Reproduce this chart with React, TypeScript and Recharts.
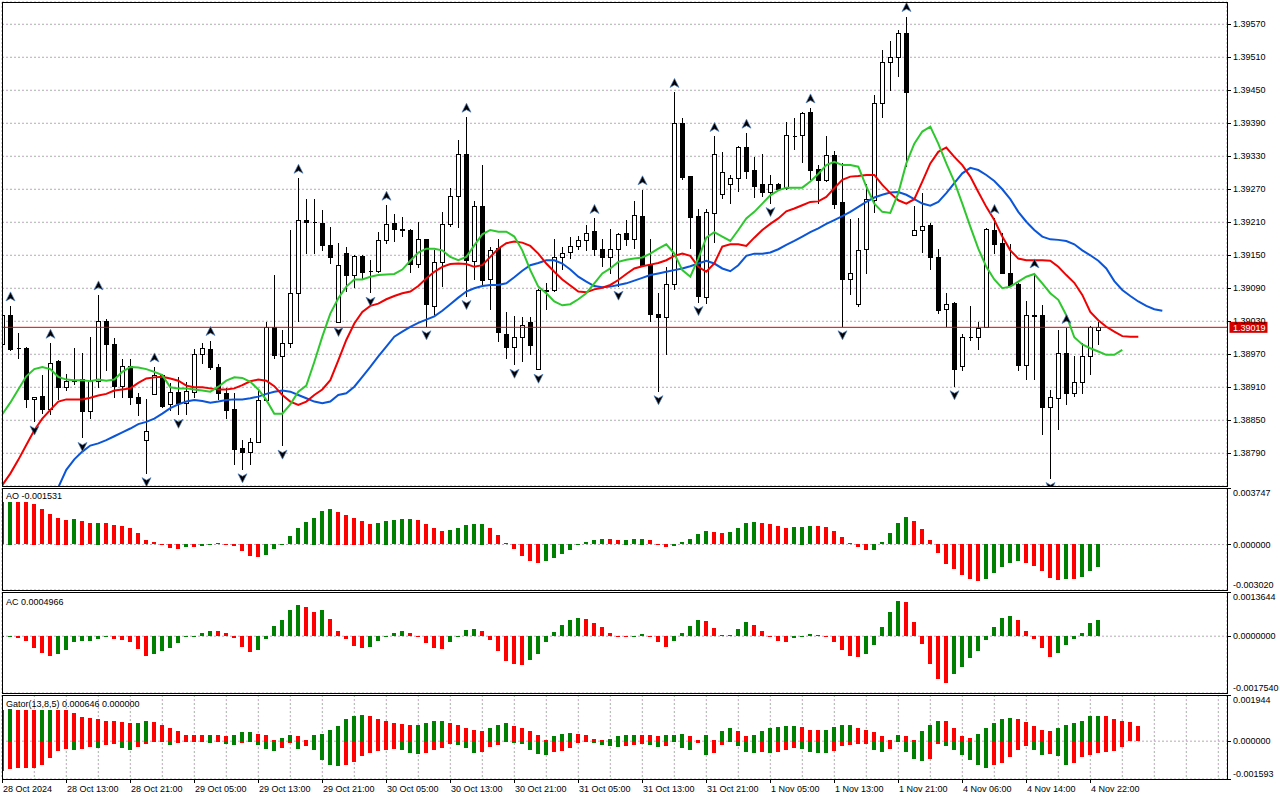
import React from "react";
import {
  ComposedChart,
  Bar,
  Line,
  Scatter,
  XAxis,
  YAxis,
  CartesianGrid,
  ReferenceLine,
  Cell,
} from "recharts";

// prices are stored in points (1e-5), indicator values in 1e-4 steps
const POINT = 0.00001;
const UNIT = 0.0001;

const opens = [
  138988, 139041, 138981, 138981, 138888, 138895, 138870, 138958, 138910, 138923,
  138925, 138867, 138921, 139030, 138988, 138913, 138949, 138892, 138814, 138897,
  138933, 138879, 138901, 138882, 138902, 138970, 138979, 138946, 138900, 138870,
  138799, 138793, 138811, 138887, 139019, 138967, 138990, 139081, 139215, 139211,
  139208, 139168, 139029, 139155, 139115, 139148, 139122, 139122, 139178, 139208,
  139197, 139196, 139135, 139179, 139058, 139137, 139206, 139258, 139335, 139140,
  139240, 139106, 139164, 139007, 138984, 139001, 139028, 138943, 139086, 139086,
  139147, 139156, 139167, 139178, 139194, 139161, 139147, 139161, 139190, 139179,
  139221, 139132, 139044, 139037, 139098, 139390, 139294, 139221, 139075, 139226,
  139262, 139279, 139290, 139347, 139305, 139279, 139265, 139279, 139272, 139367,
  139369, 139410, 139307, 139286, 139332, 139247, 139106, 139061, 139161, 139250,
  139426, 139501, 139511, 139555, 139187, 139196, 139205, 139146, 139052, 139064,
  138949, 139002, 139002, 139019, 139196, 139172, 139118, 139098, 138950, 139041,
  139041, 138875, 138890, 138973, 138899, 138919, 138967, 139015,
];

const highs = [
  139044, 139058, 139008, 138983, 138893, 138932, 138990, 138960, 138934, 138981,
  138972, 139001, 139078, 139035, 138999, 138962, 138961, 138899, 138888, 138947,
  138935, 138917, 138928, 138920, 138979, 138991, 138995, 138953, 138908, 138900,
  138815, 138817, 138905, 139029, 139114, 139015, 139196, 139290, 139253, 139252,
  139233, 139201, 139172, 139165, 139150, 139150, 139142, 139193, 139241, 139225,
  139219, 139197, 139211, 139180, 139159, 139229, 139272, 139359, 139401, 139249,
  139315, 139165, 139179, 139047, 139039, 139037, 139037, 139089, 139099, 139180,
  139165, 139184, 139185, 139205, 139217, 139179, 139197, 139191, 139215, 139249,
  139269, 139180, 139082, 139129, 139446, 139400, 139295, 139235, 139235, 139366,
  139338, 139296, 139348, 139372, 139329, 139335, 139296, 139282, 139393, 139399,
  139411, 139418, 139315, 139367, 139340, 139317, 139216, 139217, 139279, 139441,
  139524, 139539, 139559, 139584, 139239, 139264, 139209, 139162, 139081, 139065,
  139007, 139058, 139029, 139199, 139217, 139190, 139170, 139099, 139066, 139118,
  139059, 138905, 139014, 139017, 138966, 138990, 139021, 139029,
];

const lows = [
  138984, 138976, 138962, 138873, 138847, 138862, 138859, 138887, 138904, 138914,
  138817, 138852, 138908, 138940, 138890, 138890, 138878, 138858, 138753, 138896,
  138872, 138867, 138859, 138859, 138890, 138953, 138941, 138887, 138853, 138769,
  138760, 138769, 138808, 138884, 138962, 138803, 138981, 139029, 139152, 139153,
  139158, 139135, 139026, 139084, 139090, 139106, 139081, 139118, 139170, 139175,
  139184, 139118, 139126, 139020, 139041, 139092, 139202, 139200, 139075, 139105,
  139096, 139050, 138993, 138962, 138950, 138956, 138969, 138941, 139050, 139084,
  139123, 139144, 139159, 139158, 139148, 139129, 139116, 139092, 139167, 139162,
  139129, 139029, 138902, 138969, 139087, 139287, 139162, 139064, 139062, 139172,
  139253, 139244, 139265, 139288, 139255, 139256, 139244, 139268, 139269, 139341,
  139318, 139287, 139243, 139284, 139235, 139020, 139078, 139056, 139116, 139226,
  139399, 139449, 139475, 139310, 139186, 139155, 139124, 139043, 139020, 138911,
  138940, 138995, 138978, 139017, 139153, 139116, 139094, 138940, 138923, 138923,
  138823, 138744, 138832, 138878, 138893, 138898, 138932, 138987,
];

const closes = [
  139041, 138979, 138982, 138888, 138892, 138870, 138955, 138910, 138921, 138922,
  138866, 138921, 139030, 138988, 138913, 138949, 138893, 138882, 138831, 138933,
  138876, 138901, 138882, 138904, 138970, 138981, 138946, 138899, 138869, 138797,
  138793, 138811, 138887, 139019, 138969, 138990, 139081, 139215, 139211, 139210,
  139168, 139146, 139133, 139115, 139148, 139120, 139121, 139178, 139207, 139197,
  139196, 139135, 139179, 139062, 139137, 139206, 139258, 139335, 139142, 139240,
  139105, 139159, 139011, 138984, 139001, 139023, 138986, 139086, 139085, 139147,
  139155, 139167, 139178, 139190, 139161, 139147, 139162, 139188, 139179, 139224,
  139132, 139044, 139037, 139098, 139390, 139292, 139220, 139076, 139228, 139335,
  139301, 139290, 139347, 139304, 139276, 139265, 139279, 139270, 139369, 139366,
  139408, 139305, 139286, 139332, 139243, 139106, 139117, 139159, 139252, 139426,
  139501, 139511, 139555, 139447, 139196, 139204, 139146, 139050, 139062, 138944,
  139001, 139001, 139018, 139197, 139170, 139117, 139096, 138950, 139041, 139040,
  138875, 138892, 138973, 138899, 138920, 138967, 139019, 139019,
];

const jawStart = 7;
const jaw = [
  138728, 138760, 138779, 138793, 138804, 138808, 138814, 138821, 138828, 138835,
  138843, 138847, 138853, 138862, 138872, 138879, 138884, 138887, 138885, 138882,
  138884, 138887, 138888, 138888, 138890, 138893, 138898, 138902, 138904, 138902,
  138896, 138890, 138884, 138881, 138884, 138896, 138899, 138911, 138929, 138947,
  138966, 138984, 139002, 139011, 139020, 139027, 139033, 139039, 139049, 139061,
  139073, 139084, 139090, 139094, 139096, 139096, 139099, 139110, 139122, 139132,
  139136, 139141, 139141, 139135, 139124, 139111, 139102, 139094, 139092, 139093,
  139096, 139099, 139104, 139109, 139114, 139117, 139120, 139123, 139126, 139130,
  139135, 139140, 139135, 139126, 139121, 139132, 139149, 139153, 139153, 139155,
  139161, 139169, 139176, 139184, 139192, 139199, 139207, 139214, 139221, 139229,
  139238, 139247, 139255, 139260, 139264, 139265, 139260, 139252, 139244, 139240,
  139247, 139263, 139281, 139299, 139309, 139305, 139296, 139285, 139270, 139252,
  139229, 139211, 139196, 139184, 139179, 139178, 139176, 139170, 139159, 139150,
  139140, 139126, 139103, 139087, 139076, 139066, 139058, 139052, 139049,
];

const teeth = [
  138732, 138753, 138778, 138805, 138832, 138853, 138869, 138884, 138888, 138888,
  138888, 138891, 138895, 138898, 138904, 138906, 138908, 138918, 138926, 138928,
  138929, 138926, 138922, 138913, 138910, 138910, 138908, 138906, 138906, 138908,
  138914, 138921, 138924, 138922, 138912, 138896, 138884, 138878, 138884, 138896,
  138906, 138923, 138959, 138996, 139026, 139047, 139058, 139062, 139070, 139076,
  139081, 139084, 139094, 139108, 139120, 139129, 139134, 139135, 139134, 139129,
  139132, 139147, 139162, 139172, 139175, 139173, 139167, 139153, 139135, 139120,
  139106, 139095, 139084, 139083, 139088, 139091, 139096, 139105, 139116, 139126,
  139130, 139133, 139136, 139141, 139149, 139153, 139149, 139129, 139120, 139135,
  139166, 139170, 139170, 139167, 139182, 139196, 139207, 139217, 139230, 139235,
  139241, 139247, 139248, 139256, 139272, 139287, 139293, 139294, 139296, 139296,
  139278, 139263, 139250, 139244, 139252, 139284, 139317, 139338, 139346, 139329,
  139314, 139293, 139265, 139238, 139214, 139184, 139159, 139144, 139141, 139141,
  139141, 139140, 139129, 139114, 139100, 139078, 139047, 139032, 139020, 139011,
  139003, 139002, 139002,
];

const lips = [
  138861, 138882, 138906, 138930, 138943, 138947, 138943, 138929, 138924, 138923,
  138923, 138921, 138924, 138922, 138924, 138938, 138947, 138946, 138943, 138938,
  138932, 138910, 138908, 138908, 138906, 138904, 138902, 138911, 138922, 138928,
  138927, 138920, 138906, 138887, 138862, 138862, 138879, 138902, 138913, 138956,
  139002, 139044, 139072, 139093, 139106, 139106, 139111, 139114, 139115, 139116,
  139124, 139140, 139155, 139162, 139162, 139159, 139147, 139141, 139147, 139168,
  139188, 139196, 139193, 139193, 139184, 139159, 139123, 139093, 139081, 139066,
  139059, 139061, 139070, 139081, 139099, 139117, 139126, 139138, 139142, 139144,
  139146, 139153, 139162, 139170, 139153, 139123, 139111, 139144, 139182, 139192,
  139184, 139176, 139196, 139217, 139229, 139244, 139259, 139268, 139273, 139273,
  139273, 139284, 139298, 139314, 139320, 139314, 139314, 139311, 139275, 139244,
  139229, 139227, 139263, 139317, 139353, 139375, 139384, 139353, 139317, 139284,
  139244, 139202, 139162, 139129, 139106, 139090, 139093, 139102, 139111, 139116,
  139099, 139081, 139069, 139041, 139001, 138988, 138981, 138975, 138969, 138969,
  138978,
];

// bars that carry a fractal arrow
const fractalUps = [1, 6, 12, 19, 26, 37, 48, 58, 74, 80, 84, 89, 93, 101, 113, 124, 129, 133];
const fractalDowns = [4, 10, 18, 22, 30, 35, 42, 46, 53, 58, 64, 67, 77, 82, 87, 96, 105, 119, 131];

const aoValues = [
  28.0, 28.2, 28.1, 28.0, 26.9, 23.3, 20.2, 17.6, 16.4, 16.9,
  15.8, 14.2, 14.3, 14.2, 12.9, 12.2, 10.9, 7.3, 2.9, 1.6,
  -0.4, -2.4, -3.1, -1.8, -1.9, -1.1, -0.2, 0.7, 0.6, -1.1,
  -4.4, -7.8, -8.4, -7.1, -3.1, -0.2, 5.6, 10.9, 14.9, 17.6,
  22.2, 23.6, 21.6, 19.6, 17.6, 15.6, 13.6, 14.2, 15.6, 16.2,
  16.9, 17.0, 16.2, 13.6, 10.9, 8.9, 9.6, 10.9, 12.9, 13.6,
  13.7, 10.9, 6.2, 0.9, -3.1, -7.8, -11.1, -12.4, -11.1, -9.1,
  -6.4, -3.8, -0.2, 1.6, 2.9, 3.6, 3.5, 2.9, 3.0, 3.6,
  3.7, 2.9, 0.1, -1.8, -1.1, 1.6, 3.6, 6.9, 8.9, 8.2,
  7.6, 8.2, 10.9, 14.2, 14.9, 14.2, 13.6, 12.2, 10.9, 11.6,
  11.7, 12.2, 12.1, 11.6, 8.9, 4.9, 0.9, -1.8, -3.8, -3.7,
  1.6, 7.6, 14.2, 18.2, 15.6, 10.2, 2.9, -5.8, -13.1, -16.4,
  -20.4, -23.1, -24.4, -23.1, -19.1, -15.1, -12.4, -11.1, -12.4, -14.4,
  -17.8, -22.4, -23.8, -23.1, -23.2, -21.8, -17.8, -15.31,
];

const acValues = [
  0.05, 0.2, -0.5, -1.6, -3.6, -5.3, -6.1, -5.6, -4.4, -1.9,
  -1.6, -1.5, -1.0, -0.4, -1.0, -1.1, -1.9, -4.1, -6.3, -5.6,
  -4.7, -3.8, -2.3, -0.4, -0.1, 1.0, 1.6, 1.5, 1.0, -0.7,
  -3.5, -5.0, -4.2, -1.0, 3.2, 5.0, 8.1, 9.6, 9.0, 7.5,
  8.1, 5.3, 1.6, -1.0, -3.2, -3.8, -3.5, -1.6, -0.1, 1.0,
  1.6, 1.0, -0.1, -2.3, -3.8, -3.9, -1.9, 0.2, 1.9, 2.3,
  1.6, -1.3, -4.7, -7.8, -8.7, -9.0, -7.5, -5.6, -1.9, 1.3,
  3.5, 5.0, 5.6, 5.3, 4.1, 2.9, 1.0, -0.1, -0.2, 0.1,
  0.7, -0.1, -1.9, -3.5, -1.6, 1.0, 3.2, 5.0, 4.7, 2.6,
  0.4, 0.3, 2.3, 4.4, 3.5, 1.6, 0.1, -1.6, -1.9, -0.7,
  0.1, 0.7, 0.4, -0.4, -1.9, -4.4, -6.3, -6.4, -5.6, -2.9,
  2.9, 7.5, 10.9, 10.6, 4.4, -2.6, -8.7, -13.3, -14.6, -11.8,
  -9.6, -6.9, -4.7, -1.3, 2.9, 5.6, 6.3, 5.0, 1.6, -1.0,
  -3.8, -6.6, -5.3, -2.9, -1.0, 1.0, 4.1, 4.966,
];

const gatorUpper = [
  13.3, 13.4, 13.3, 13.2, 13.1, 13.2, 13.3, 13.2, 13.1, 11.7,
  10.0, 9.6, 9.2, 8.7, 8.6, 7.9, 7.5, 7.6, 8.3, 7.9,
  6.6, 5.4, 4.4, 2.8, 2.7, 2.6, 2.8, 2.4, 2.0, 2.4,
  3.7, 3.8, 3.2, 2.4, 0.7, 1.5, 2.4, 2.3, 0.3, 2.8,
  2.9, 4.5, 6.2, 9.2, 10.8, 10.9, 10.4, 9.2, 8.3, 7.5,
  7.4, 6.6, 7.0, 7.5, 8.3, 8.4, 7.5, 6.6, 5.4, 4.5,
  4.1, 5.4, 7.0, 7.5, 6.2, 5.4, 4.1, 2.8, 0.3, 2.0,
  3.2, 3.3, 3.2, 2.4, 1.1, 0.3, 1.1, 2.0, 2.4, 2.8,
  2.7, 2.4, 2.0, 2.4, 2.8, 3.2, 2.0, 0.7, 2.4, 0.5,
  4.1, 5.4, 4.1, 2.0, 2.8, 4.1, 5.4, 5.8, 6.2, 6.3,
  5.8, 4.9, 4.8, 4.9, 5.8, 6.6, 6.7, 5.4, 4.9, 3.7,
  2.0, 0.3, 2.4, 2.0, 0.7, 4.1, 7.0, 8.7, 8.6, 5.4,
  2.0, 1.5, 3.2, 5.4, 7.5, 9.2, 9.6, 9.2, 7.9, 6.2,
  4.5, 4.1, 5.4, 6.6, 7.5, 8.3, 10.4, 10.8, 10.4, 9.2,
  8.3, 7.9, 6.46,
];

// lower histogram, drawn below zero
const gatorLower = [
  12.7, 12.0, 11.5, 11.4, 11.3, 9.9, 7.3, 4.4, 3.5, 3.6,
  3.5, 2.7, 3.1, 1.8, 1.4, 3.1, 3.9, 2.7, 1.4, 0.6,
  0.3, 1.8, 1.0, 0.2, 0.1, 0.6, 0.7, 0.2, 1.4, 1.8,
  1.0, 0.2, 1.8, 3.5, 4.4, 3.1, 1.0, 3.5, 2.3, 3.9,
  8.2, 9.9, 10.7, 10.3, 9.0, 6.5, 5.2, 4.4, 3.7, 3.5,
  3.9, 5.2, 5.6, 5.2, 3.9, 3.1, 1.4, 1.6, 3.1, 5.2,
  4.8, 2.7, 1.8, 0.6, 1.0, 1.4, 3.9, 5.6, 5.7, 4.8,
  4.4, 3.1, 1.0, 0.6, 1.0, 1.8, 2.3, 2.7, 2.3, 1.8,
  1.4, 1.8, 2.7, 2.3, 0.6, 3.1, 3.9, 1.0, 6.1, 5.2,
  1.8, 0.4, 2.3, 4.8, 4.9, 4.8, 5.2, 4.8, 3.9, 3.1,
  3.2, 4.8, 4.9, 5.0, 4.4, 2.3, 1.8, 1.4, 1.3, 3.9,
  4.8, 3.5, 0.1, 4.8, 7.7, 8.6, 7.7, 1.4, 2.3, 3.9,
  6.1, 8.2, 10.3, 11.5, 10.3, 9.4, 6.9, 3.9, 2.3, 3.9,
  6.1, 5.6, 6.5, 9.9, 9.4, 6.9, 6.1, 5.2, 4.8, 4.4,
  2.7,
];

const priceTicks = [
  1.3957, 1.3951, 1.3945, 1.3939, 1.3933, 1.3927, 1.3921,
  1.3915, 1.3909, 1.3903, 1.3897, 1.3891, 1.3885, 1.3879,
];

const timeLabels = [
  "28 Oct 2024", "28 Oct 13:00", "28 Oct 21:00", "29 Oct 05:00", "29 Oct 13:00",
  "29 Oct 21:00", "30 Oct 05:00", "30 Oct 13:00", "30 Oct 21:00", "31 Oct 05:00",
  "31 Oct 13:00", "31 Oct 21:00", "1 Nov 05:00", "1 Nov 13:00", "1 Nov 21:00",
  "4 Nov 06:00", "4 Nov 14:00", "4 Nov 22:00",
];

const LABEL_STEP = 8;
const GRID_STEP = 4;
const X_DOMAIN: [number, number] = [-0.0375, 153.0875];
const PRICE_DOMAIN: [number, number] = [1.387305, 1.396105];
const AO_DOMAIN: [number, number] = [-0.00302, 0.003747];
const AC_DOMAIN: [number, number] = [-0.001754, 0.0013644];
const GATOR_DOMAIN: [number, number] = [-0.001593, 0.001944];

const FONT = '"Liberation Sans", Arial, sans-serif';
const FONT_SIZE = 9;
const UP = "#008000";
const DOWN = "#ff0000";

const gridTicks: number[] = [];
for (let i = 0; i <= 152; i += GRID_STEP) gridTicks.push(i);

const rowCount = jawStart + jaw.length;
const rows = Array.from({ length: rowCount }, (_, i) => {
  const has = i < opens.length;
  return {
    i,
    o: has ? opens[i] * POINT : undefined,
    h: has ? highs[i] * POINT : undefined,
    l: has ? lows[i] * POINT : undefined,
    c: has ? closes[i] * POINT : undefined,
    range: has ? [lows[i] * POINT, highs[i] * POINT] : undefined,
    jaw: i >= jawStart ? jaw[i - jawStart] * POINT : undefined,
    teeth: i < teeth.length ? teeth[i] * POINT : undefined,
    lips: i < lips.length ? lips[i] * POINT : undefined,
  };
});

const upRows = fractalUps.map((i) => ({ i, y: highs[i] * POINT }));
const downRows = fractalDowns.map((i) => ({ i, y: lows[i] * POINT }));

const lastClose = closes[closes.length - 1] * POINT;

const aoRows = aoValues.map((v, i) => ({ i, v: v * UNIT }));
const acRows = acValues.map((v, i) => ({ i, v: v * UNIT }));
const gatorRows = gatorUpper.map((u, i) => ({
  i,
  up: u * UNIT,
  dn: i < gatorLower.length ? -gatorLower[i] * UNIT : undefined,
}));

function rising(values: number[], i: number) {
  return i === 0 || values[i] > values[i - 1];
}

function Candle(props: any) {
  const { x, y, width, height, payload } = props;
  if (payload == null || payload.h == null) return null;
  const cx = Math.round(x + width / 2) + 0.5;
  const span = payload.h - payload.l;
  const k = span > 0 ? height / span : 0;
  const yO = y + (payload.h - payload.o) * k;
  const yC = y + (payload.h - payload.c) * k;
  const top = Math.round(Math.min(yO, yC)) + 0.5;
  const bot = Math.round(Math.max(yO, yC)) + 0.5;
  const bull = payload.c >= payload.o;
  return (
    <g shapeRendering="crispEdges">
      <line x1={cx} x2={cx} y1={y} y2={y + height} stroke="#000" />
      {bot - top < 1 ? (
        <line x1={cx - 2} x2={cx + 2} y1={top} y2={top} stroke="#000" />
      ) : (
        <rect
          x={cx - 2}
          y={top}
          width={4}
          height={bot - top}
          fill={bull ? "#fff" : "#000"}
          stroke="#000"
        />
      )}
    </g>
  );
}

function HistBar(props: any) {
  const { x, y, width, height, fill } = props;
  if (!height || x == null) return null;
  const h = Math.abs(height);
  const top = height < 0 ? y + height : y;
  return (
    <rect
      x={Math.round(x)}
      y={Math.round(top)}
      width={width}
      height={Math.max(1, Math.round(h))}
      fill={fill}
      shapeRendering="crispEdges"
    />
  );
}

function UpArrow(props: any) {
  const { cx, cy } = props;
  if (cx == null) return null;
  const x = Math.round(cx) + 0.5;
  const y = cy - 9;
  return (
    <path
      d={`M${x},${y - 5} L${x + 4.5},${y + 4} L${x},${y + 1.5} L${x - 4.5},${y + 4} Z`}
      fill="#000"
      stroke="#4f7fbf"
      strokeWidth={0.7}
    />
  );
}

function DownArrow(props: any) {
  const { cx, cy } = props;
  if (cx == null) return null;
  const x = Math.round(cx) + 0.5;
  const y = cy + 8;
  return (
    <path
      d={`M${x},${y + 5} L${x + 4.5},${y - 4} L${x},${y - 1.5} L${x - 4.5},${y - 4} Z`}
      fill="#000"
      stroke="#4f7fbf"
      strokeWidth={0.7}
    />
  );
}

function PriceTick(props: any) {
  const { x, y, payload } = props;
  return (
    <g>
      <line x1={x} x2={x + 4} y1={Math.round(y) + 0.5} y2={Math.round(y) + 0.5} stroke="#000" />
      <text x={x + 6} y={y} dy={3.2} textAnchor="start" fontSize={FONT_SIZE} fontFamily={FONT} fill="#000">
        {payload.value.toFixed(5)}
      </text>
    </g>
  );
}

function makeSideTick(digits: number, domain: [number, number]) {
  return function SideTick(props: any) {
    const { x, y, payload } = props;
    const v = payload.value;
    const dy = v === domain[1] ? 8 : v === domain[0] ? -2 : 3.2;
    return (
      <g>
        <line x1={x} x2={x + 4} y1={Math.round(y) + 0.5} y2={Math.round(y) + 0.5} stroke="#000" />
        <text x={x + 6} y={y} dy={dy} textAnchor="start" fontSize={FONT_SIZE} fontFamily={FONT} fill="#000">
          {v.toFixed(digits)}
        </text>
      </g>
    );
  };
}

function TimeTick(props: any) {
  const { x, y, payload } = props;
  const i = payload.value;
  if (i % LABEL_STEP !== 0) return null;
  const label = timeLabels[i / LABEL_STEP];
  if (!label) return null;
  const px = Math.round(x) + 0.5;
  return (
    <g>
      <line x1={px} x2={px} y1={y} y2={y + 4} stroke="#000" />
      <text x={px + 0.5} y={y + 12.5} textAnchor="start" fontSize={FONT_SIZE} fontFamily={FONT} fill="#000">
        {label}
      </text>
    </g>
  );
}

function PriceTag(props: any) {
  const vb = props.viewBox;
  if (!vb) return null;
  const x = vb.x + vb.width + 2.5;
  const y = vb.y;
  return (
    <g>
      <rect x={x} y={y - 5.5} width={38} height={11} fill="#d40000" />
      <text x={x + 3.5} y={y + 3.2} fill="#fff" fontSize={FONT_SIZE} fontFamily={FONT}>
        {props.text}
      </text>
    </g>
  );
}

const gridA = { stroke: "#9fb79f", strokeDasharray: "2 6" };
const gridB = { stroke: "#c6a3c6", strokeDasharray: "2 6", strokeDashoffset: 4 };

function hiddenX() {
  return (
    <XAxis
      type="number"
      dataKey="i"
      domain={X_DOMAIN}
      allowDataOverflow
      ticks={gridTicks}
      interval={0}
      tick={false}
      tickLine={false}
      axisLine={false}
      height={0}
    />
  );
}

const AoTick = makeSideTick(6, AO_DOMAIN);
const AcTick = makeSideTick(7, AC_DOMAIN);
const GatorTick = makeSideTick(6, GATOR_DOMAIN);

function Frame({ top, height }: { top: number; height: number }) {
  return (
    <div
      style={{
        position: "absolute",
        left: 2,
        top,
        width: 1226,
        height,
        border: "1px solid #000",
        boxSizing: "border-box",
        pointerEvents: "none",
      }}
    />
  );
}

function Caption({ top, text }: { top: number; text: string }) {
  return (
    <div
      style={{
        position: "absolute",
        left: 6,
        top,
        fontFamily: FONT,
        fontSize: FONT_SIZE,
        lineHeight: "10px",
        color: "#000",
        whiteSpace: "nowrap",
      }}
    >
      {text}
    </div>
  );
}

export default function App() {
  const lastAo = aoValues[aoValues.length - 1] * UNIT;
  const lastAc = acValues[acValues.length - 1] * UNIT;
  const lastGu = gatorUpper[gatorUpper.length - 1] * UNIT;

  return (
    <div
      style={{
        position: "absolute",
        left: 0,
        top: 0,
        width: 1280,
        height: 800,
        background: "#fff",
        overflow: "hidden",
        fontFamily: FONT,
      }}
    >
      {/* price window */}
      <div style={{ position: "absolute", left: 0, top: 0 }}>
        <ComposedChart width={1280} height={488} data={rows} margin={{ top: 2, right: 0, bottom: 2, left: 2 }}>
          <CartesianGrid {...gridA} />
          <CartesianGrid {...gridB} />
          {hiddenX()}
          <YAxis
            orientation="right"
            domain={PRICE_DOMAIN}
            allowDataOverflow
            ticks={priceTicks}
            interval={0}
            width={53}
            tickSize={0}
            tickMargin={0}
            tickLine={false}
            axisLine={false}
            tick={<PriceTick />}
          />
          <ReferenceLine
            y={lastClose}
            stroke="#e00000"
            strokeWidth={1}
            label={<PriceTag text={lastClose.toFixed(5)} />}
          />
          <Bar dataKey="range" barSize={5} isAnimationActive={false} shape={(p: any) => <Candle {...p} />} />
          <Line dataKey="jaw" stroke="#0a55d8" strokeWidth={2} dot={false} activeDot={false} isAnimationActive={false} />
          <Line dataKey="teeth" stroke="#f00000" strokeWidth={2} dot={false} activeDot={false} isAnimationActive={false} />
          <Line dataKey="lips" stroke="#2ec82e" strokeWidth={2} dot={false} activeDot={false} isAnimationActive={false} />
          <Scatter data={upRows} dataKey="y" isAnimationActive={false} shape={(p: any) => <UpArrow {...p} />} />
          <Scatter data={downRows} dataKey="y" isAnimationActive={false} shape={(p: any) => <DownArrow {...p} />} />
        </ComposedChart>
      </div>

      {/* Awesome Oscillator */}
      <div style={{ position: "absolute", left: 0, top: 488 }}>
        <ComposedChart width={1280} height={102} data={aoRows} margin={{ top: 0, right: 0, bottom: 0, left: 2 }}>
          <CartesianGrid {...gridA} />
          <CartesianGrid {...gridB} />
          {hiddenX()}
          <YAxis
            orientation="right"
            domain={AO_DOMAIN}
            allowDataOverflow
            ticks={[AO_DOMAIN[0], 0, AO_DOMAIN[1]]}
            interval={0}
            width={53}
            tickSize={0}
            tickMargin={0}
            tickLine={false}
            axisLine={false}
            tick={<AoTick />}
          />
          <Bar dataKey="v" barSize={4} isAnimationActive={false} shape={(p: any) => <HistBar {...p} />}>
            {aoRows.map((r, i) => (
              <Cell key={r.i} fill={rising(aoValues, i) ? UP : DOWN} />
            ))}
          </Bar>
        </ComposedChart>
      </div>

      {/* Accelerator Oscillator */}
      <div style={{ position: "absolute", left: 0, top: 592 }}>
        <ComposedChart width={1280} height={101} data={acRows} margin={{ top: 0, right: 0, bottom: 0, left: 2 }}>
          <CartesianGrid {...gridA} />
          <CartesianGrid {...gridB} />
          {hiddenX()}
          <YAxis
            orientation="right"
            domain={AC_DOMAIN}
            allowDataOverflow
            ticks={[AC_DOMAIN[0], 0, AC_DOMAIN[1]]}
            interval={0}
            width={53}
            tickSize={0}
            tickMargin={0}
            tickLine={false}
            axisLine={false}
            tick={<AcTick />}
          />
          <Bar dataKey="v" barSize={4} isAnimationActive={false} shape={(p: any) => <HistBar {...p} />}>
            {acRows.map((r, i) => (
              <Cell key={r.i} fill={rising(acValues, i) ? UP : DOWN} />
            ))}
          </Bar>
        </ComposedChart>
      </div>

      {/* Gator Oscillator + time scale */}
      <div style={{ position: "absolute", left: 0, top: 695 }}>
        <ComposedChart
          width={1280}
          height={105}
          data={gatorRows}
          stackOffset="sign"
          margin={{ top: 0, right: 0, bottom: 0, left: 2 }}
        >
          <CartesianGrid {...gridA} />
          <CartesianGrid {...gridB} />
          <XAxis
            type="number"
            dataKey="i"
            domain={X_DOMAIN}
            allowDataOverflow
            ticks={gridTicks}
            interval={0}
            height={21}
            tickSize={0}
            tickMargin={0}
            tickLine={false}
            axisLine={false}
            tick={<TimeTick />}
          />
          <YAxis
            orientation="right"
            domain={GATOR_DOMAIN}
            allowDataOverflow
            ticks={[GATOR_DOMAIN[0], 0, GATOR_DOMAIN[1]]}
            interval={0}
            width={53}
            tickSize={0}
            tickMargin={0}
            tickLine={false}
            axisLine={false}
            tick={<GatorTick />}
          />
          <Bar dataKey="up" stackId="g" barSize={4} isAnimationActive={false} shape={(p: any) => <HistBar {...p} />}>
            {gatorRows.map((r, i) => (
              <Cell key={r.i} fill={rising(gatorUpper, i) ? UP : DOWN} />
            ))}
          </Bar>
          <Bar dataKey="dn" stackId="g" barSize={4} isAnimationActive={false} shape={(p: any) => <HistBar {...p} />}>
            {gatorRows.map((r, i) => (
              <Cell key={r.i} fill={rising(gatorLower, i) ? UP : DOWN} />
            ))}
          </Bar>
        </ComposedChart>
      </div>

      <Frame top={2} height={485} />
      <Frame top={488} height={103} />
      <Frame top={592} height={102} />
      <Frame top={695} height={85} />

      <Caption top={491} text={`AO ${lastAo.toFixed(6)}`} />
      <Caption top={597} text={`AC ${lastAc.toFixed(7)}`} />
      <Caption top={699} text={`Gator(13,8,5) ${lastGu.toFixed(6)} ${(0).toFixed(6)}`} />
    </div>
  );
}
